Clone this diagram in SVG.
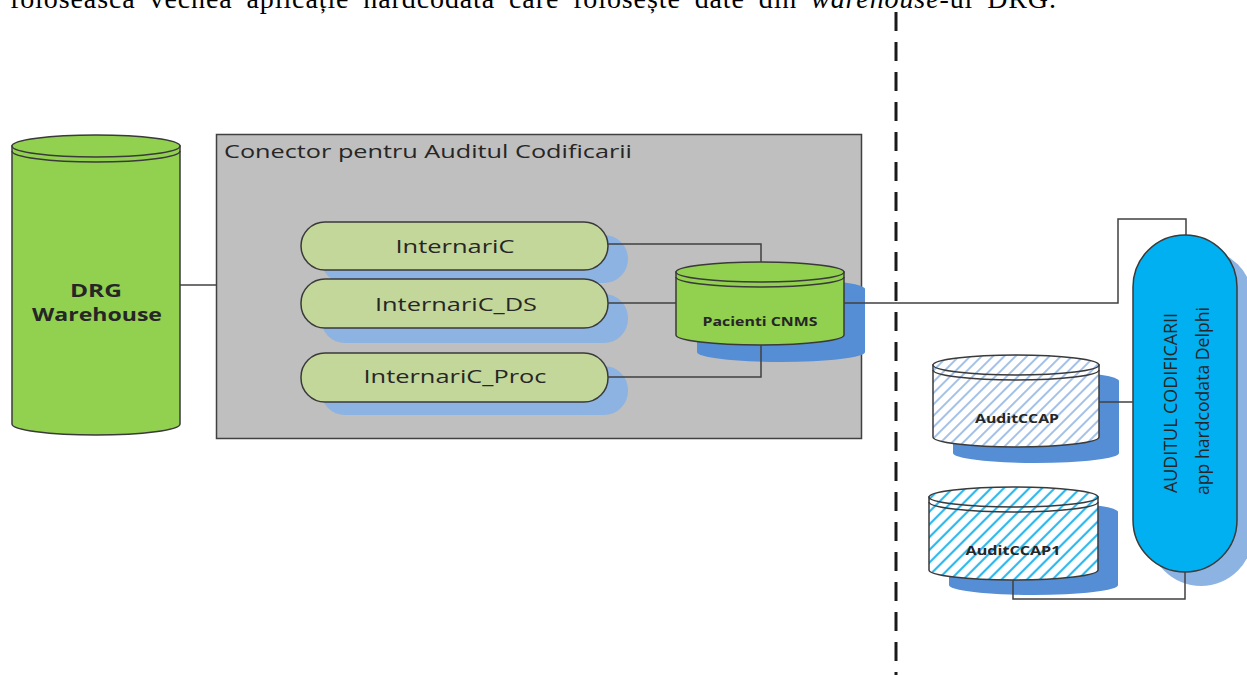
<svg xmlns="http://www.w3.org/2000/svg" width="1247" height="675" viewBox="0 0 1247 675">
<style>
.stroke{stroke:#3a3a3a;stroke-width:1.5}
.conn{fill:none;stroke:#404040;stroke-width:1.5}
.lbl{font-family:"Open Sans","Noto Sans",sans-serif;fill:#262626}
.node{fill:#C4D79B;stroke:#3a3a3a;stroke-width:1.5}
.nshadow{fill:#8DB3E2}
.cshadow{fill:#558ED5}
.green{fill:#92D050}
</style>
<defs>
<pattern id="hatch1" patternUnits="userSpaceOnUse" width="8" height="8" patternTransform="rotate(45)">
<rect width="8" height="8" fill="#fff"/>
<line x1="2" y1="0" x2="2" y2="8" stroke="#8DB3E2" stroke-width="1.6"/>
</pattern>
<pattern id="hatch2" patternUnits="userSpaceOnUse" width="9" height="9" patternTransform="rotate(45)">
<rect width="9" height="9" fill="#fff"/>
<line x1="2" y1="0" x2="2" y2="9" stroke="#2EB8EE" stroke-width="2.2"/>
</pattern>
</defs>
<rect width="1247" height="675" fill="#fff"/>

<text x="10" y="8" font-family="Liberation Serif, serif" font-size="28" fill="#000" word-spacing="6" textLength="1046" lengthAdjust="spacing">folosească vechea aplicație hardcodată care folosește date din <tspan font-style="italic">warehouse</tspan>-ul DRG.</text>

<line x1="896" y1="12" x2="896" y2="675" stroke="#1a1a1a" stroke-width="3" stroke-dasharray="19 11"/>

<g id="drg-warehouse">
<path class="green stroke" d="M12,146 L12,424 A84,11 0 0 0 180,424 L180,146 Z"/>
<ellipse class="green stroke" cx="96" cy="146" rx="84" ry="11"/>
<path class="stroke" fill="none" d="M12,151 A84,11 0 0 0 180,151"/>
<text class="lbl" x="96" y="297" text-anchor="middle" font-size="18" font-weight="bold" fill="#000" textLength="52" lengthAdjust="spacingAndGlyphs">DRG</text>
<text class="lbl" x="97" y="321" text-anchor="middle" font-size="18" font-weight="bold" fill="#000" textLength="130" lengthAdjust="spacingAndGlyphs">Warehouse</text>
</g>

<g id="conector-box">
<rect x="216.5" y="134.5" width="645" height="304" fill="#BFBFBF" stroke="#404040" stroke-width="1.5"/>
<text class="lbl" x="224" y="158" font-size="18" textLength="408" lengthAdjust="spacingAndGlyphs">Conector pentru Auditul Codificarii</text>
</g>

<g id="internaric">
<rect class="nshadow" x="321" y="235" width="307" height="48" rx="24"/>
<rect class="node" x="301" y="222" width="307" height="48" rx="24"/>
<text class="lbl" x="455" y="253" text-anchor="middle" font-size="18" textLength="119" lengthAdjust="spacingAndGlyphs">InternariC</text>
</g>

<g id="internaric-ds">
<rect class="nshadow" x="321" y="294" width="307" height="49" rx="24"/>
<rect class="node" x="301" y="279" width="307" height="49" rx="24"/>
<text class="lbl" x="456" y="311" text-anchor="middle" font-size="18" textLength="162" lengthAdjust="spacingAndGlyphs">InternariC_DS</text>
</g>

<g id="internaric-proc">
<rect class="nshadow" x="321" y="366" width="307" height="49" rx="24"/>
<rect class="node" x="301" y="353" width="307" height="49" rx="24"/>
<text class="lbl" x="455" y="383" text-anchor="middle" font-size="18" textLength="183" lengthAdjust="spacingAndGlyphs">InternariC_Proc</text>
</g>

<g id="pacienti-cnms">
<path class="cshadow" d="M697,289 L697,352 A84,10 0 0 0 865,352 L865,289 A84,10 0 0 0 697,289 Z"/>
<path class="green stroke" d="M676,272 L676,335 A84,10 0 0 0 844,335 L844,272 Z"/>
<ellipse class="green stroke" cx="760" cy="272" rx="84" ry="10"/>
<path class="stroke" fill="none" d="M676,277 A84,10 0 0 0 844,277"/>
<text class="lbl" x="760" y="326" text-anchor="middle" font-size="13" font-weight="bold" fill="#1a1a1a" textLength="115" lengthAdjust="spacingAndGlyphs">Pacienti CNMS</text>
</g>

<g id="auditccap">
<path class="cshadow" d="M953,381 L953,453 A83,10 0 0 0 1119,453 L1119,381 A83,10 0 0 0 953,381 Z"/>
<path fill="url(#hatch1)" class="stroke" d="M933,365 L933,437 A83,10 0 0 0 1099,437 L1099,365 Z"/>
<ellipse fill="url(#hatch1)" class="stroke" cx="1016" cy="365" rx="83" ry="10"/>
<path class="stroke" fill="none" d="M933,370 A83,10 0 0 0 1099,370"/>
<text class="lbl" x="1017" y="423" text-anchor="middle" font-size="12" font-weight="bold" fill="#1a1a1a" textLength="84" lengthAdjust="spacingAndGlyphs">AuditCCAP</text>
</g>

<g id="auditccap1">
<path class="cshadow" d="M949,512 L949,585 A84,10 0 0 0 1118,585 L1118,512 A84,10 0 0 0 949,512 Z"/>
<path fill="url(#hatch2)" class="stroke" d="M929,497 L929,570 A84.5,10 0 0 0 1098,570 L1098,497 Z"/>
<ellipse fill="url(#hatch2)" class="stroke" cx="1013.5" cy="497" rx="84.5" ry="10"/>
<path class="stroke" fill="none" d="M929,502 A84.5,10 0 0 0 1098,502"/>
<text class="lbl" x="1013" y="555" text-anchor="middle" font-size="12" font-weight="bold" fill="#1a1a1a" textLength="95" lengthAdjust="spacingAndGlyphs">AuditCCAP1</text>
</g>

<g id="auditul-codificarii">
<rect class="nshadow" x="1149" y="249" width="104" height="337" rx="52"/>
<rect fill="#00B0F0" class="stroke" x="1133" y="235" width="104" height="337" rx="52"/>
<text class="lbl" transform="translate(1177,403) rotate(-90)" text-anchor="middle" font-size="19" fill="#0d1a26" textLength="180" lengthAdjust="spacingAndGlyphs">AUDITUL CODIFICARII</text>
<text class="lbl" transform="translate(1209,401) rotate(-90)" text-anchor="middle" font-size="19" fill="#0d1a26" textLength="188" lengthAdjust="spacingAndGlyphs">app hardcodata Delphi</text>
</g>

<g id="connectors">
<path class="conn" d="M180,285 L216,285"/>
<path class="conn" d="M608,244 L761,244 L761,262"/>
<path class="conn" d="M608,303 L676,303"/>
<path class="conn" d="M608,377 L761,377 L761,345"/>
<path class="conn" d="M844,303 L1118,303 L1118,219 L1186,219 L1186,235"/>
<path class="conn" d="M1099,402 L1133,402"/>
<path class="conn" d="M1013,580 L1013,599 L1185,599 L1185,572"/>
</g>
</svg>
